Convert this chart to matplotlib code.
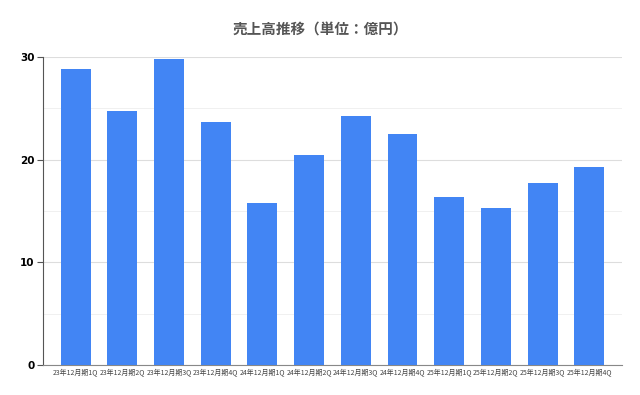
import matplotlib
matplotlib.use("Agg")
import matplotlib.pyplot as plt
import numpy as np

plt.rcParams['font.family'] = ['Noto Sans CJK JP', 'DejaVu Sans']

labels = ["23年12月期1Q", "23年12月期2Q", "23年12月期3Q", "23年12月期4Q",
          "24年12月期1Q", "24年12月期2Q", "24年12月期3Q", "24年12月期4Q",
          "25年12月期1Q", "25年12月期2Q", "25年12月期3Q", "25年12月期4Q"]
sales = [28.8, 24.7, 29.8, 23.7, 15.8, 20.4, 24.2, 22.5, 16.4, 15.3, 17.7, 19.3]
yticks = [0, 10, 20, 30]

fig = plt.figure(figsize=(6.4, 3.95), dpi=100)
ax = fig.add_axes([0.067, 0.076, 0.905, 0.780])

x = np.arange(len(labels))
ax.bar(x, sales, width=0.64, color="#4285F4", zorder=3)

ax.set_xlim(-0.7, len(labels) - 0.3)
ax.set_ylim(0, 30)
ax.set_yticks(yticks)
ax.set_yticks([5, 15, 25], minor=True)
ax.set_yticklabels([str(v) for v in yticks], fontsize=7.5, fontweight="bold",
                   family=["DejaVu Sans"])
ax.grid(axis="y", which="major", color="#dddddd", linewidth=0.8, zorder=0)
ax.grid(axis="y", which="minor", color="#eeeeee", linewidth=0.6, zorder=0)
ax.tick_params(axis="y", which="major", length=4, width=0.8, color="#555555", pad=2)
ax.tick_params(axis="y", which="minor", length=0)

ax.set_xticks(x)
ax.set_xticklabels(labels, fontsize=5, color="#444444")
ax.tick_params(axis="x", length=0, pad=2)

for s in ["top", "right"]:
    ax.spines[s].set_visible(False)
ax.spines["left"].set_color("#555555")
ax.spines["bottom"].set_color("#888888")
ax.spines["left"].set_linewidth(0.8)
ax.spines["bottom"].set_linewidth(0.8)

fig.suptitle("売上高推移（単位：億円）", y=0.945, fontsize=10.5, fontweight="bold",
             color="#555555")

fig.savefig("out.png", dpi=100)
